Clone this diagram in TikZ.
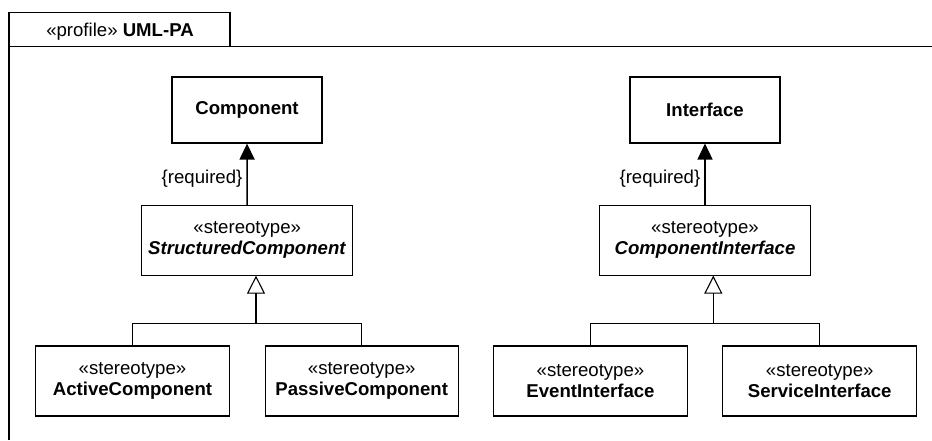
\documentclass[tikz,border=0pt]{standalone}
\usepackage{fontspec}
\setmainfont{Liberation Sans}
\usetikzlibrary{arrows.meta}
\tikzset{
  every picture/.style={x=1pt, y=-1pt, font=\fontsize{18.6}{21}\selectfont, line width=1.1pt},
  cls/.style={draw, inner sep=0pt, align=center, minimum height=66pt},
  stereo/.style={cls, minimum height=69.3pt},
  leaf/.style={cls, minimum height=70pt},
  req/.style={line width=1.5pt, -{Triangle[length=16pt,width=15pt]}},
  gen/.style={line width=1.5pt, -{Triangle[open,length=18pt,width=18pt,line width=1.1pt]}},
}
\newcommand{\stereotype}[1]{«stereotype»\\#1}

\begin{document}
\begin{tikzpicture}
  \useasboundingbox (0,0) rectangle (932,440);
  % profile frame with its name tab
  \draw (9,12.7) rectangle (230,46.7);
  \node (tab) at (120,31.7) {«profile» \textbf{UML-PA}};
  \draw (9,440) -- (9,46.7) -- (932,46.7);

  % component side
  \node[cls, minimum width=150pt] (comp) at (247,110) {\textbf{Component}};
  \node[stereo, minimum width=211pt] (sc) at (247.2,240.4) {\stereotype{\textbf{\textit{StructuredComponent}}}};
  \node[leaf, minimum width=193.6pt] (act) at (132.5,381) {\stereotype{\textbf{ActiveComponent}}};
  \node[leaf, minimum width=193.3pt] (pas) at (361.7,381) {\stereotype{\textbf{PassiveComponent}}};
  \draw[req] (sc) -- node[left, pos=0.43, inner sep=4pt] {\{required\}} (comp);
  \coordinate (cj) at (256,323.3);
  \draw (act.north) |- (cj) -| (pas.north);
  \draw[gen] (cj) -- (cj |- sc.south);

  % interface side
  \node[cls, minimum width=150pt] (intf) at (705,110) {\textbf{Interface}};
  \node[stereo, minimum width=211.4pt] (ci) at (705,240.4) {\stereotype{\textbf{\textit{ComponentInterface}}}};
  \node[leaf, minimum width=194.4pt] (evt) at (590.5,381) {\stereotype{\textbf{EventInterface}}};
  \node[leaf, minimum width=194pt] (svc) at (819.7,381) {\stereotype{\textbf{ServiceInterface}}};
  \draw[req] (ci) -- node[left, pos=0.43, inner sep=4pt] {\{required\}} (intf);
  \coordinate (ij) at (713.3,323.3);
  \draw (evt.north) |- (ij) -| (svc.north);
  \draw[gen] (ij) -- (ij |- ci.south);
\end{tikzpicture}
\end{document}
